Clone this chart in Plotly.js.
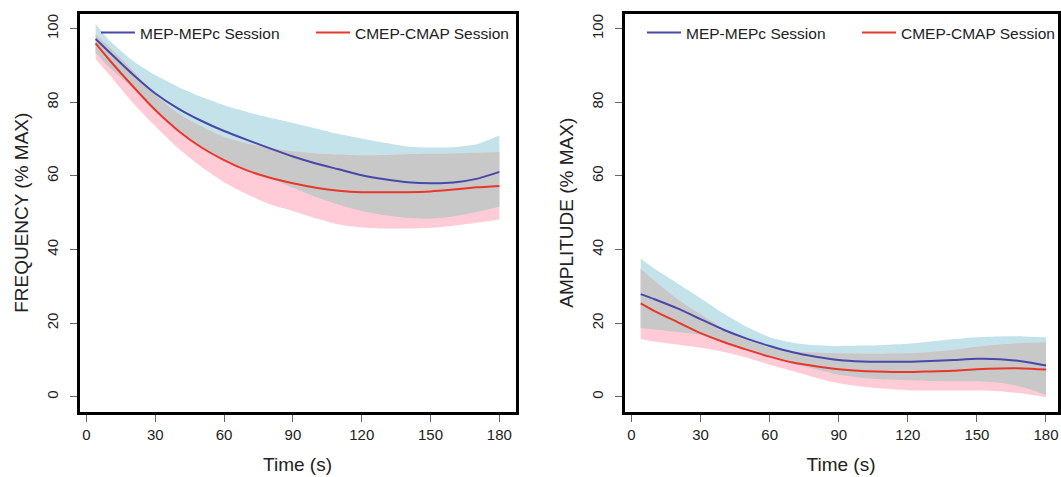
<!DOCTYPE html>
<html><head><meta charset="utf-8">
<script src="https://cdn.plot.ly/plotly-3.0.1.min.js"></script>
<style>html,body{margin:0;padding:0;background:#fff}</style>
</head><body><div id="chart" style="width:1061px;height:477px"></div>
<script>
// time axis (s)
const time = [4,10,20,30,40,50,60,70,80,90,100,110,120,130,140,150,160,170,180];
const xTicks = [0,30,60,90,120,150,180];
const yTicks = [0,20,40,60,80,100];
const seriesNames = ["MEP-MEPc Session","CMEP-CMAP Session"];

// FREQUENCY (% MAX)
const freqMepMean  = [97.2,93.6,87.7,82.4,78.3,75.0,72.2,69.8,67.5,65.3,63.4,61.8,60.2,59.1,58.3,58.0,58.2,59.2,61.1];
const freqMepUpper = [101.3,96.8,91.4,87.4,84.2,81.5,79.2,77.4,75.8,74.4,72.9,71.4,70.2,69.0,68.0,67.7,67.8,68.6,71.0];
const freqMepLower = [93.5,89.5,84.0,78.2,72.5,68.0,64.6,61.8,59.4,56.8,54.3,52.2,50.5,49.3,48.6,48.4,49.0,50.2,51.6];
const freqCmepMean  = [96.0,91.5,84.5,77.9,72.3,67.8,64.3,61.5,59.5,58.0,56.8,56.0,55.6,55.6,55.6,55.8,56.3,56.9,57.3];
const freqCmepUpper = [98.5,95.0,88.8,82.0,77.0,73.5,70.6,68.8,67.6,66.7,66.1,65.8,65.6,65.7,65.9,66.0,66.1,66.3,66.5];
const freqCmepLower = [91.8,87.5,80.0,73.5,67.5,62.5,58.3,55.0,52.3,50.5,48.5,46.8,46.0,45.7,45.7,45.9,46.5,47.3,48.2];

// AMPLITUDE (% MAX)
const ampMepMean  = [27.9,26.5,24.0,21.1,18.2,15.8,13.8,12.1,10.9,10.0,9.6,9.5,9.5,9.7,10.0,10.3,10.2,9.6,8.5];
const ampMepUpper = [37.5,34.8,30.8,26.8,22.6,19.0,16.2,14.7,14.0,13.8,13.9,14.1,14.4,15.0,15.7,16.2,16.4,16.4,16.2];
const ampMepLower = [18.6,18.3,17.6,16.8,14.7,12.6,10.8,9.0,7.5,6.0,5.2,4.7,4.5,4.3,4.2,4.2,3.8,2.6,0.5];
const ampCmepMean  = [25.4,23.3,20.3,17.3,14.9,12.8,10.9,9.3,8.3,7.5,7.0,6.8,6.7,6.9,7.1,7.5,7.7,7.7,7.4];
const ampCmepUpper = [34.8,31.5,26.5,22.4,18.5,15.4,13.4,12.4,12.0,11.8,11.7,11.7,11.8,12.2,12.8,13.6,14.2,14.6,14.8];
const ampCmepLower = [15.7,15.0,14.2,13.3,12.2,10.7,8.7,7.0,5.2,3.7,2.8,2.2,1.8,1.7,1.7,1.7,1.5,0.9,-0.1];

const BLUE_BAND = "#c4e2ea", PINK_BAND = "#ffcbd7", GRAY_BAND = "#c8c8c8";
const BLUE_LINE = "#4848a8", RED_LINE = "#e8372b";
const FONT = "Liberation Sans, Arial, sans-serif";

function bandPair(lo, hi, color, xa, ya) {
  const base = {x: time, mode: "lines", line: {width: 0, shape: "spline", smoothing: 0.6},
    xaxis: xa, yaxis: ya, showlegend: false, hoverinfo: "skip"};
  return [
    Object.assign({}, base, {y: lo, fill: "none"}),
    Object.assign({}, base, {y: hi, fill: "tonexty", fillcolor: color})
  ];
}
function panel(mepLo, mepHi, mepMean, cLo, cHi, cMean, xa, ya, leg) {
  const ovLo = mepLo.map((v, i) => Math.max(v, cLo[i]));
  const ovHi = mepHi.map((v, i) => Math.min(v, cHi[i]));
  return [
    ...bandPair(mepLo, mepHi, BLUE_BAND, xa, ya),
    ...bandPair(cLo, cHi, PINK_BAND, xa, ya),
    ...bandPair(ovLo, ovHi, GRAY_BAND, xa, ya),
    {x: time, y: mepMean, mode: "lines", name: seriesNames[0], legend: leg,
     line: {color: BLUE_LINE, width: 2, shape: "spline", smoothing: 0.6}, xaxis: xa, yaxis: ya},
    {x: time, y: cMean, mode: "lines", name: seriesNames[1], legend: leg,
     line: {color: RED_LINE, width: 2, shape: "spline", smoothing: 0.6}, xaxis: xa, yaxis: ya}
  ];
}

const data = [
  ...panel(freqMepLower, freqMepUpper, freqMepMean, freqCmepLower, freqCmepUpper, freqCmepMean, "x", "y", "legend"),
  ...panel(ampMepLower, ampMepUpper, ampMepMean, ampCmepLower, ampCmepUpper, ampCmepMean, "x2", "y2", "legend2")
];

const W = 1061, H = 477;
const yDom = [1 - 411.5 / H, 1 - 14 / H];
function xAxis(dom, range, anchor) {
  return {domain: dom, range: range, anchor: anchor, tickvals: xTicks, ticktext: xTicks.map(String),
    ticks: "outside", ticklen: 7, tickwidth: 1, tickcolor: "#666",
    showline: true, mirror: true, linewidth: 3, linecolor: "#000",
    showgrid: false, zeroline: false, fixedrange: true,
    tickfont: {family: FONT, size: 15, color: "#222"},
    title: {text: "Time (s)", font: {family: FONT, size: 19, color: "#222"}, standoff: 17}};
}
function yAxis(anchor, title) {
  return {domain: yDom, range: [-4, 104], anchor: anchor, tickvals: yTicks, ticktext: yTicks.map(String),
    tickangle: -90, ticks: "outside", ticklen: 7, tickwidth: 1, tickcolor: "#666",
    showline: true, mirror: true, linewidth: 3, linecolor: "#000",
    showgrid: false, zeroline: false, fixedrange: true, ticklabelstandoff: 6,
    tickfont: {family: FONT, size: 15, color: "#222"},
    title: {text: title, font: {family: FONT, size: 19, color: "#222"}, standoff: 10}};
}
const legendBase = {orientation: "h", xanchor: "left", yanchor: "middle", y: 1 - 33 / H,
  traceorder: "normal",
  bgcolor: "rgba(0,0,0,0)", borderwidth: 0, font: {family: FONT, size: 15.5, color: "#222"},
  itemwidth: 34, entrywidth: 166, entrywidthmode: "pixels"};

const layout = {
  width: W, height: H, margin: {l: 0, r: 0, t: 0, b: 0, autoexpand: false},
  paper_bgcolor: "#fff", plot_bgcolor: "#fff", showlegend: true,
  xaxis: xAxis([79.5 / W, 515.5 / W], [-3.04, 187.04], "y"),
  yaxis: yAxis("x", "FREQUENCY (% MAX)"),
  xaxis2: xAxis([624.5 / W, 1057.5 / W], [-3.04, 185.0], "y2"),
  yaxis2: yAxis("x2", "AMPLITUDE (% MAX)"),
  legend: Object.assign({}, legendBase, {x: 96 / W}),
  legend2: Object.assign({}, legendBase, {x: 642 / W})
};

Plotly.newPlot("chart", data, layout, {displayModeBar: false, staticPlot: true});
</script>
</body></html>
